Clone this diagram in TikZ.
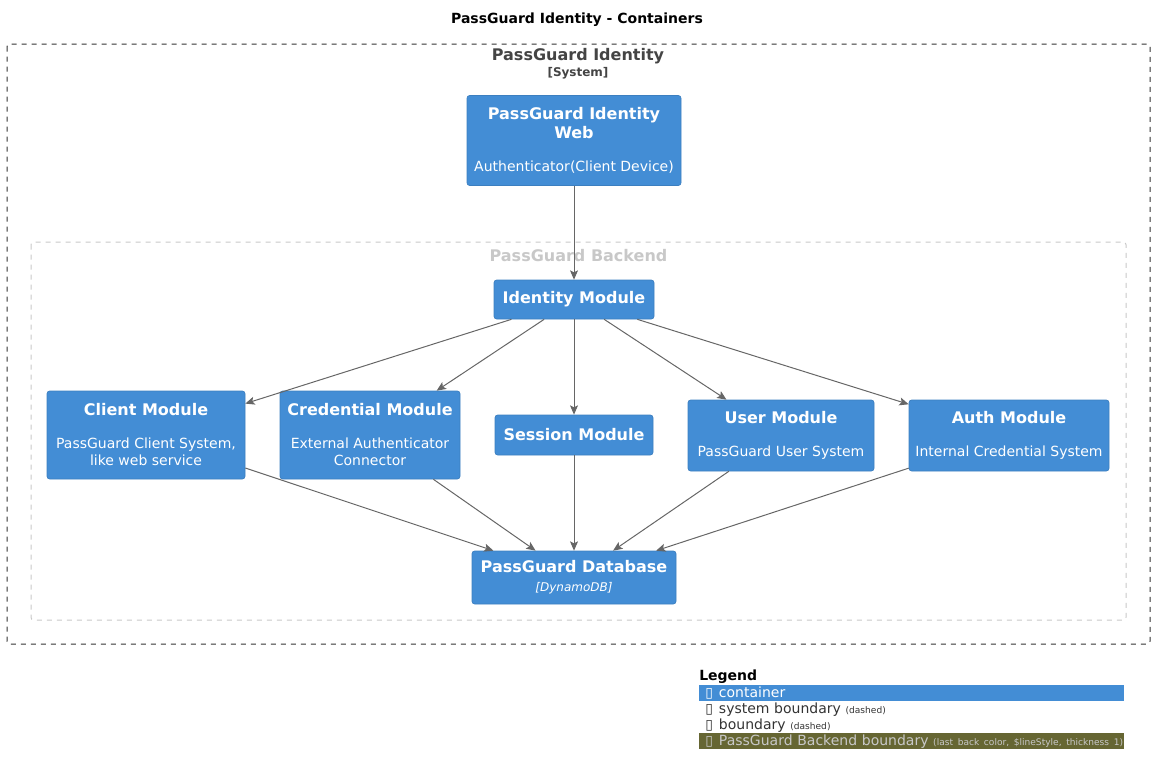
\documentclass[tikz,border=0pt]{standalone}
\usepackage{fontspec}
\setmainfont{DejaVu Sans}
\usetikzlibrary{arrows.meta}

\definecolor{c4blue}{HTML}{438DD5}
\definecolor{c4border}{HTML}{3C7FC0}
\definecolor{edgegray}{HTML}{666666}
\definecolor{sysgray}{HTML}{444444}
\definecolor{backgray}{HTML}{C8C8C8}
\definecolor{backolive}{HTML}{666633}

\newcommand\boxtitle[1]{{\fontsize{12}{14.25}\selectfont\bfseries #1}}
\newcommand\smalltxt[1]{{\fontsize{6.8}{9}\selectfont #1}}
\newcommand\legicon{▯\hspace{4.5pt}}

\begin{document}
\begin{tikzpicture}[x=0.75pt, y=-0.75pt,
  container/.style 2 args={fill=c4blue, draw=c4border, line width=0.5pt,
    rounded corners=2pt, text=white, align=center, inner sep=0pt,
    minimum width=#1*0.75pt, minimum height=#2*0.75pt,
    font=\fontsize{10.5}{12.75}\selectfont},
  rel/.style={draw=edgegray, line width=0.75pt,
    -{Stealth[length=7pt, width=6pt, inset=1.5pt]}},
  bnd/.style={line width=0.75pt, dash pattern=on 3.75pt off 3.75pt,
    rounded corners=2pt},
  bndlabel/.style={font=\fontsize{12}{14}\selectfont\bfseries, inner sep=0pt},
  legrow/.style={anchor=west, inner xsep=4.5pt, inner ysep=0pt,
    minimum height=12pt, text width=309.75pt, align=left,
    text height=9pt, text depth=1.5pt, font=\fontsize{10.5}{12}\selectfont}]
  \useasboundingbox (0,0) rectangle (1154,775);

  % title and boundaries
  \node[font=\fontsize{10.5}{12}\selectfont\bfseries] (title) at (577,19.5)
    {PassGuard Identity - Containers};
  \draw[bnd, draw=black!80] (7,44) rectangle (1150,644);
  \node[bndlabel, text=sysgray] (syslabel) at (578,56.5) {PassGuard Identity};
  \node[font=\fontsize{9}{10}\selectfont\bfseries, text=sysgray, inner sep=0pt]
    (systype) at (578,73) {[System]};
  \draw[bnd, draw=backgray] (31,242) rectangle (1126,620);
  \node[bndlabel, text=backgray] (backlabel) at (578.5,256) {PassGuard Backend};

  % containers
  \node[container={214}{90}] (web) at (574,140.5)
    {\boxtitle{PassGuard Identity}\\[1.5pt] \boxtitle{Web}\\[12pt] Authenticator(Client Device)};
  \node[container={160}{39}] (identity) at (574,299.5) {\boxtitle{Identity Module}};
  \node[container={198}{88}] (client) at (146,435)
    {\boxtitle{Client Module}\\[12pt] PassGuard Client System,\\ like web service};
  \node[container={180}{88}] (credential) at (370,435)
    {\boxtitle{Credential Module}\\[12pt] External Authenticator\\ Connector};
  \node[container={158}{40}] (session) at (574,435) {\boxtitle{Session Module}};
  \node[container={186}{71}] (user) at (781,435.5)
    {\boxtitle{User Module}\\[12pt] PassGuard User System};
  \node[container={200}{71}] (auth) at (1009,435.5)
    {\boxtitle{Auth Module}\\[12pt] Internal Credential System};
  \node[container={204}{53}] (db) at (574,577.5)
    {\boxtitle{PassGuard Database}\\[1.5pt] {\fontsize{9}{10.5}\selectfont\itshape [DynamoDB]}};

  % relations
  \draw[rel] (web) -- (identity);
  \foreach \m in {client, credential, session, user, auth} {
    \draw[rel] (identity) -- (\m);
    \draw[rel] (\m) -- (db);
  }

  % legend
  \node[anchor=west, inner sep=0pt, font=\fontsize{10.5}{12}\selectfont\bfseries]
    (legend) at (699,677) {Legend};
  \node[legrow, fill=c4blue, text=white] (legcont) at (699,692.5)
    {\legicon container};
  \node[legrow, text=black!80] (legsys) at (699,708.5)
    {\legicon system boundary \smalltxt{(dashed)}};
  \node[legrow, text=black!80] (legbnd) at (699,724.5)
    {\legicon boundary \smalltxt{(dashed)}};
  \node[legrow, fill=backolive, text=backgray] (legback) at (699,740.5)
    {\mbox{\legicon PassGuard Backend boundary \smalltxt{(last back color, \$lineStyle, thickness 1)}}};
\end{tikzpicture}
\end{document}
